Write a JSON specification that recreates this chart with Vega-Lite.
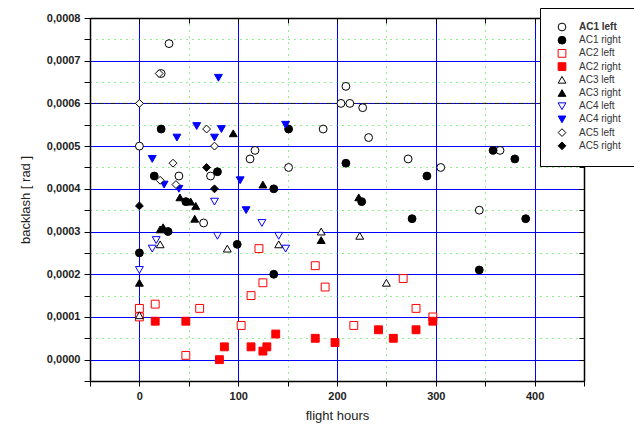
{
  "$schema": "https://vega.github.io/schema/vega-lite/v6.json",
  "width": 494,
  "height": 363,
  "autosize": "none",
  "padding": {"left": 90, "top": 18, "right": 50, "bottom": 49},
  "config": {
    "locale": {"number": {"decimal": ",", "thousands": ".", "grouping": [3], "currency": ["", ""]}},
    "view": {"stroke": null},
    "font": "Liberation Sans"
  },
  "datasets": {
    "pts": [
      {"series": "AC1 left", "hours": 30, "backlash": 0.00074},
      {"series": "AC1 left", "hours": 22, "backlash": 0.00067},
      {"series": "AC1 left", "hours": 0, "backlash": 0.0005},
      {"series": "AC1 left", "hours": 117, "backlash": 0.00049},
      {"series": "AC1 left", "hours": 112, "backlash": 0.00047},
      {"series": "AC1 left", "hours": 40, "backlash": 0.00043},
      {"series": "AC1 left", "hours": 72, "backlash": 0.00043},
      {"series": "AC1 left", "hours": 65, "backlash": 0.00032},
      {"series": "AC1 left", "hours": 209, "backlash": 0.00064},
      {"series": "AC1 left", "hours": 204, "backlash": 0.0006},
      {"series": "AC1 left", "hours": 213, "backlash": 0.0006},
      {"series": "AC1 left", "hours": 226, "backlash": 0.00059},
      {"series": "AC1 left", "hours": 186, "backlash": 0.00054},
      {"series": "AC1 left", "hours": 232, "backlash": 0.00052},
      {"series": "AC1 left", "hours": 151, "backlash": 0.00045},
      {"series": "AC1 left", "hours": 272, "backlash": 0.00047},
      {"series": "AC1 left", "hours": 305, "backlash": 0.00045},
      {"series": "AC1 left", "hours": 365, "backlash": 0.00049},
      {"series": "AC1 left", "hours": 344, "backlash": 0.00035},
      {"series": "AC1 right", "hours": 22, "backlash": 0.00054},
      {"series": "AC1 right", "hours": 79, "backlash": 0.00044},
      {"series": "AC1 right", "hours": 15, "backlash": 0.00043},
      {"series": "AC1 right", "hours": 136, "backlash": 0.0004},
      {"series": "AC1 right", "hours": 47, "backlash": 0.00037},
      {"series": "AC1 right", "hours": 29, "backlash": 0.0003},
      {"series": "AC1 right", "hours": 99, "backlash": 0.00027},
      {"series": "AC1 right", "hours": 0, "backlash": 0.00025},
      {"series": "AC1 right", "hours": 136, "backlash": 0.0002},
      {"series": "AC1 right", "hours": 225, "backlash": 0.00037},
      {"series": "AC1 right", "hours": 276, "backlash": 0.00033},
      {"series": "AC1 right", "hours": 344, "backlash": 0.00021},
      {"series": "AC1 right", "hours": 391, "backlash": 0.00033},
      {"series": "AC1 right", "hours": 151, "backlash": 0.00054},
      {"series": "AC1 right", "hours": 209, "backlash": 0.00046},
      {"series": "AC1 right", "hours": 291, "backlash": 0.00043},
      {"series": "AC1 right", "hours": 358, "backlash": 0.00049},
      {"series": "AC1 right", "hours": 380, "backlash": 0.00047},
      {"series": "AC2 left", "hours": 0, "backlash": 0.00012},
      {"series": "AC2 left", "hours": 0, "backlash": 0.0001},
      {"series": "AC2 left", "hours": 16, "backlash": 0.00013},
      {"series": "AC2 left", "hours": 61, "backlash": 0.00012},
      {"series": "AC2 left", "hours": 47, "backlash": 0.00001},
      {"series": "AC2 left", "hours": 103, "backlash": 0.00008},
      {"series": "AC2 left", "hours": 121, "backlash": 0.00026},
      {"series": "AC2 left", "hours": 125, "backlash": 0.00018},
      {"series": "AC2 left", "hours": 113, "backlash": 0.00015},
      {"series": "AC2 left", "hours": 178, "backlash": 0.00022},
      {"series": "AC2 left", "hours": 188, "backlash": 0.00017},
      {"series": "AC2 left", "hours": 217, "backlash": 0.00008},
      {"series": "AC2 left", "hours": 267, "backlash": 0.00019},
      {"series": "AC2 left", "hours": 280, "backlash": 0.00012},
      {"series": "AC2 left", "hours": 297, "backlash": 0.0001},
      {"series": "AC2 right", "hours": 16, "backlash": 0.00009},
      {"series": "AC2 right", "hours": 47, "backlash": 0.00009},
      {"series": "AC2 right", "hours": 81, "backlash": 0.0},
      {"series": "AC2 right", "hours": 86, "backlash": 0.00003},
      {"series": "AC2 right", "hours": 113, "backlash": 0.00003},
      {"series": "AC2 right", "hours": 125, "backlash": 0.00002},
      {"series": "AC2 right", "hours": 129, "backlash": 0.00003},
      {"series": "AC2 right", "hours": 138, "backlash": 0.00006},
      {"series": "AC2 right", "hours": 178, "backlash": 0.00005},
      {"series": "AC2 right", "hours": 198, "backlash": 0.00004},
      {"series": "AC2 right", "hours": 242, "backlash": 0.00007},
      {"series": "AC2 right", "hours": 257, "backlash": 0.00005},
      {"series": "AC2 right", "hours": 280, "backlash": 0.00007},
      {"series": "AC2 right", "hours": 297, "backlash": 0.00009},
      {"series": "AC3 left", "hours": 89, "backlash": 0.00026},
      {"series": "AC3 left", "hours": 21, "backlash": 0.00027},
      {"series": "AC3 left", "hours": 0, "backlash": 0.000104},
      {"series": "AC3 left", "hours": 141, "backlash": 0.00027},
      {"series": "AC3 left", "hours": 184, "backlash": 0.0003},
      {"series": "AC3 left", "hours": 223, "backlash": 0.00029},
      {"series": "AC3 left", "hours": 250, "backlash": 0.00018},
      {"series": "AC3 right", "hours": 95, "backlash": 0.00053},
      {"series": "AC3 right", "hours": 125, "backlash": 0.00041},
      {"series": "AC3 right", "hours": 41, "backlash": 0.00038},
      {"series": "AC3 right", "hours": 52, "backlash": 0.00037},
      {"series": "AC3 right", "hours": 57, "backlash": 0.00036},
      {"series": "AC3 right", "hours": 56, "backlash": 0.00033},
      {"series": "AC3 right", "hours": 21, "backlash": 0.000305},
      {"series": "AC3 right", "hours": 24, "backlash": 0.00031},
      {"series": "AC3 right", "hours": 0, "backlash": 0.00018},
      {"series": "AC3 right", "hours": 184, "backlash": 0.00028},
      {"series": "AC3 right", "hours": 222, "backlash": 0.00038},
      {"series": "AC4 left", "hours": 76, "backlash": 0.00037},
      {"series": "AC4 left", "hours": 79, "backlash": 0.00029},
      {"series": "AC4 left", "hours": 17, "backlash": 0.00028},
      {"series": "AC4 left", "hours": 13, "backlash": 0.00026},
      {"series": "AC4 left", "hours": 0, "backlash": 0.00021},
      {"series": "AC4 left", "hours": 124, "backlash": 0.00032},
      {"series": "AC4 left", "hours": 141, "backlash": 0.00029},
      {"series": "AC4 left", "hours": 148, "backlash": 0.00026},
      {"series": "AC4 right", "hours": 80, "backlash": 0.00066},
      {"series": "AC4 right", "hours": 38, "backlash": 0.00052},
      {"series": "AC4 right", "hours": 58, "backlash": 0.000547},
      {"series": "AC4 right", "hours": 83, "backlash": 0.00054},
      {"series": "AC4 right", "hours": 76, "backlash": 0.00052},
      {"series": "AC4 right", "hours": 13, "backlash": 0.00047},
      {"series": "AC4 right", "hours": 25, "backlash": 0.00041},
      {"series": "AC4 right", "hours": 40, "backlash": 0.0004},
      {"series": "AC4 right", "hours": 102, "backlash": 0.00042},
      {"series": "AC4 right", "hours": 108, "backlash": 0.00035},
      {"series": "AC4 right", "hours": 148, "backlash": 0.00055},
      {"series": "AC5 left", "hours": 20, "backlash": 0.00067},
      {"series": "AC5 left", "hours": 0, "backlash": 0.0006},
      {"series": "AC5 left", "hours": 68, "backlash": 0.00054},
      {"series": "AC5 left", "hours": 76, "backlash": 0.0005},
      {"series": "AC5 left", "hours": 34, "backlash": 0.00046},
      {"series": "AC5 left", "hours": 21, "backlash": 0.00042},
      {"series": "AC5 left", "hours": 37, "backlash": 0.00041},
      {"series": "AC5 right", "hours": 0, "backlash": 0.00036},
      {"series": "AC5 right", "hours": 68, "backlash": 0.00045},
      {"series": "AC5 right", "hours": 76, "backlash": 0.0004}
    ]
  },
  "resolve": {"axis": {"x": "independent", "y": "independent"}},
  "layer": [
    {
      "data": {"values": [{"limit": 0.0006}]},
      "mark": {"type": "rule", "color": "#222222", "strokeWidth": 1, "strokeDash": [6, 2, 2, 2]},
      "encoding": {
        "y": {"field": "limit", "type": "quantitative", "axis": null}
      }
    },
    {
      "data": {"name": "pts"},
      "mark": {"type": "point", "size": 62, "strokeWidth": 1, "opacity": 1, "fillOpacity": 1},
      "encoding": {
        "x": {
          "field": "hours", "type": "quantitative",
          "scale": {"domain": [-50, 450], "nice": false, "zero": false},
          "axis": {
            "orient": "bottom",
            "values": [-50, 0, 50, 100, 150, 200, 250, 300, 350, 400, 450],
            "labelExpr": "datum.value % 100 === 0 ? format(datum.value, 'd') : ''",
            "labelFont": "Liberation Sans", "labelFontWeight": "bold", "labelFontSize": 11, "labelColor": "#222222",
            "labelPadding": 4, "labelFlush": false, "labelOverlap": false,
            "title": "flight hours", "titleFont": "Liberation Sans", "titleFontWeight": "normal", "titleFontSize": 13, "titleColor": "#222222", "titlePadding": 8,
            "domainColor": "black", "domainWidth": 1.5,
            "tickColor": "black", "tickSize": 5, "tickWidth": 1,
            "grid": true,
            "gridColor": {"condition": {"test": "datum.value % 100 === 0", "value": "#0000ff"}, "value": "#22dd22"},
            "gridDash": {"condition": {"test": "datum.value % 100 === 0", "value": []}, "value": [1, 5]},
            "gridWidth": 1
          }
        },
        "y": {
          "field": "backlash", "type": "quantitative",
          "scale": {"domain": [-0.00005, 0.0008], "nice": false, "zero": false},
          "axis": {
            "orient": "left",
            "values": [-0.00005, 0, 0.00005, 0.0001, 0.00015, 0.0002, 0.00025, 0.0003, 0.00035, 0.0004, 0.00045, 0.0005, 0.00055, 0.0006, 0.00065, 0.0007, 0.00075, 0.0008],
            "labelExpr": "abs(round(datum.value*10000) - datum.value*10000) < 0.001 && datum.value > -0.00001 ? format(datum.value, '.4f') : ''",
            "labelFont": "Liberation Sans", "labelFontWeight": "bold", "labelFontSize": 11, "labelColor": "#222222",
            "labelPadding": 4, "labelFlush": false, "labelOverlap": false,
            "title": "backlash [ rad ]", "titleFont": "Liberation Sans", "titleFontWeight": "normal", "titleFontSize": 13, "titleColor": "#222222", "titlePadding": 14,
            "domainColor": "black", "domainWidth": 1.5,
            "tickColor": "black", "tickSize": 6, "tickWidth": 1,
            "grid": true,
            "gridColor": {"condition": {"test": "abs(round(datum.value*10000) - datum.value*10000) < 0.001", "value": "#0000ff"}, "value": "#22dd22"},
            "gridDash": {"condition": {"test": "abs(round(datum.value*10000) - datum.value*10000) < 0.001", "value": []}, "value": [1, 5]},
            "gridWidth": 1
          }
        },
        "shape": {
          "field": "series", "type": "nominal",
          "scale": {
            "domain": ["AC1 left", "AC1 right", "AC2 left", "AC2 right", "AC3 left", "AC3 right", "AC4 left", "AC4 right", "AC5 left", "AC5 right"],
            "range": ["circle", "circle", "square", "square", "triangle-up", "triangle-up", "triangle-down", "triangle-down", "diamond", "diamond"]
          },
          "legend": {
            "title": null, "orient": "none", "legendX": 450, "legendY": -10,
            "fillColor": "white", "strokeColor": "black", "padding": 14,
            "labelFont": "Liberation Sans", "labelFontSize": 10, "labelColor": "#333333", "labelOffset": 12,
            "labelFontWeight": {"expr": "datum.value === 'AC1 left' ? 'bold' : 'normal'"},
            "symbolSize": 60, "symbolStrokeWidth": 1, "symbolOffset": 3, "rowPadding": 1.2
          }
        },
        "stroke": {
          "field": "series", "type": "nominal",
          "scale": {
            "domain": ["AC1 left", "AC1 right", "AC2 left", "AC2 right", "AC3 left", "AC3 right", "AC4 left", "AC4 right", "AC5 left", "AC5 right"],
            "range": ["black", "black", "#ff0000", "#ff0000", "black", "black", "#0000ff", "#0000ff", "black", "black"]
          },
          "legend": {
            "title": null, "orient": "none", "legendX": 450, "legendY": -10,
            "fillColor": "white", "strokeColor": "black", "padding": 14,
            "labelFont": "Liberation Sans", "labelFontSize": 10, "labelColor": "#333333", "labelOffset": 12,
            "labelFontWeight": {"expr": "datum.value === 'AC1 left' ? 'bold' : 'normal'"},
            "symbolSize": 60, "symbolStrokeWidth": 1, "symbolOffset": 3, "rowPadding": 1.2
          }
        },
        "fill": {
          "field": "series", "type": "nominal",
          "scale": {
            "domain": ["AC1 left", "AC1 right", "AC2 left", "AC2 right", "AC3 left", "AC3 right", "AC4 left", "AC4 right", "AC5 left", "AC5 right"],
            "range": ["white", "black", "white", "#ff0000", "white", "black", "white", "#0000ff", "white", "black"]
          },
          "legend": {
            "title": null, "orient": "none", "legendX": 450, "legendY": -10,
            "fillColor": "white", "strokeColor": "black", "padding": 14,
            "labelFont": "Liberation Sans", "labelFontSize": 10, "labelColor": "#333333", "labelOffset": 12,
            "labelFontWeight": {"expr": "datum.value === 'AC1 left' ? 'bold' : 'normal'"},
            "symbolSize": 60, "symbolStrokeWidth": 1, "symbolOffset": 3, "rowPadding": 1.2
          }
        }
      }
    },
    {
      "data": {"name": "pts"},
      "mark": {"type": "point", "opacity": 0},
      "encoding": {
        "x": {
          "field": "hours", "type": "quantitative",
          "axis": {
            "orient": "top", "values": [-50, 0, 50, 100, 150, 200, 250, 300, 350, 400, 450],
            "labels": false, "title": null, "grid": false,
            "domainColor": "black", "domainWidth": 1.5,
            "tickColor": "black", "tickSize": -5, "tickWidth": 1
          }
        },
        "y": {
          "field": "backlash", "type": "quantitative",
          "axis": {
            "orient": "right",
            "values": [-0.00005, 0, 0.00005, 0.0001, 0.00015, 0.0002, 0.00025, 0.0003, 0.00035, 0.0004, 0.00045, 0.0005, 0.00055, 0.0006, 0.00065, 0.0007, 0.00075, 0.0008],
            "labels": false, "title": null, "grid": false,
            "domainColor": "black", "domainWidth": 1.5,
            "tickColor": "black", "tickSize": -5, "tickWidth": 1
          }
        }
      }
    }
  ]
}
